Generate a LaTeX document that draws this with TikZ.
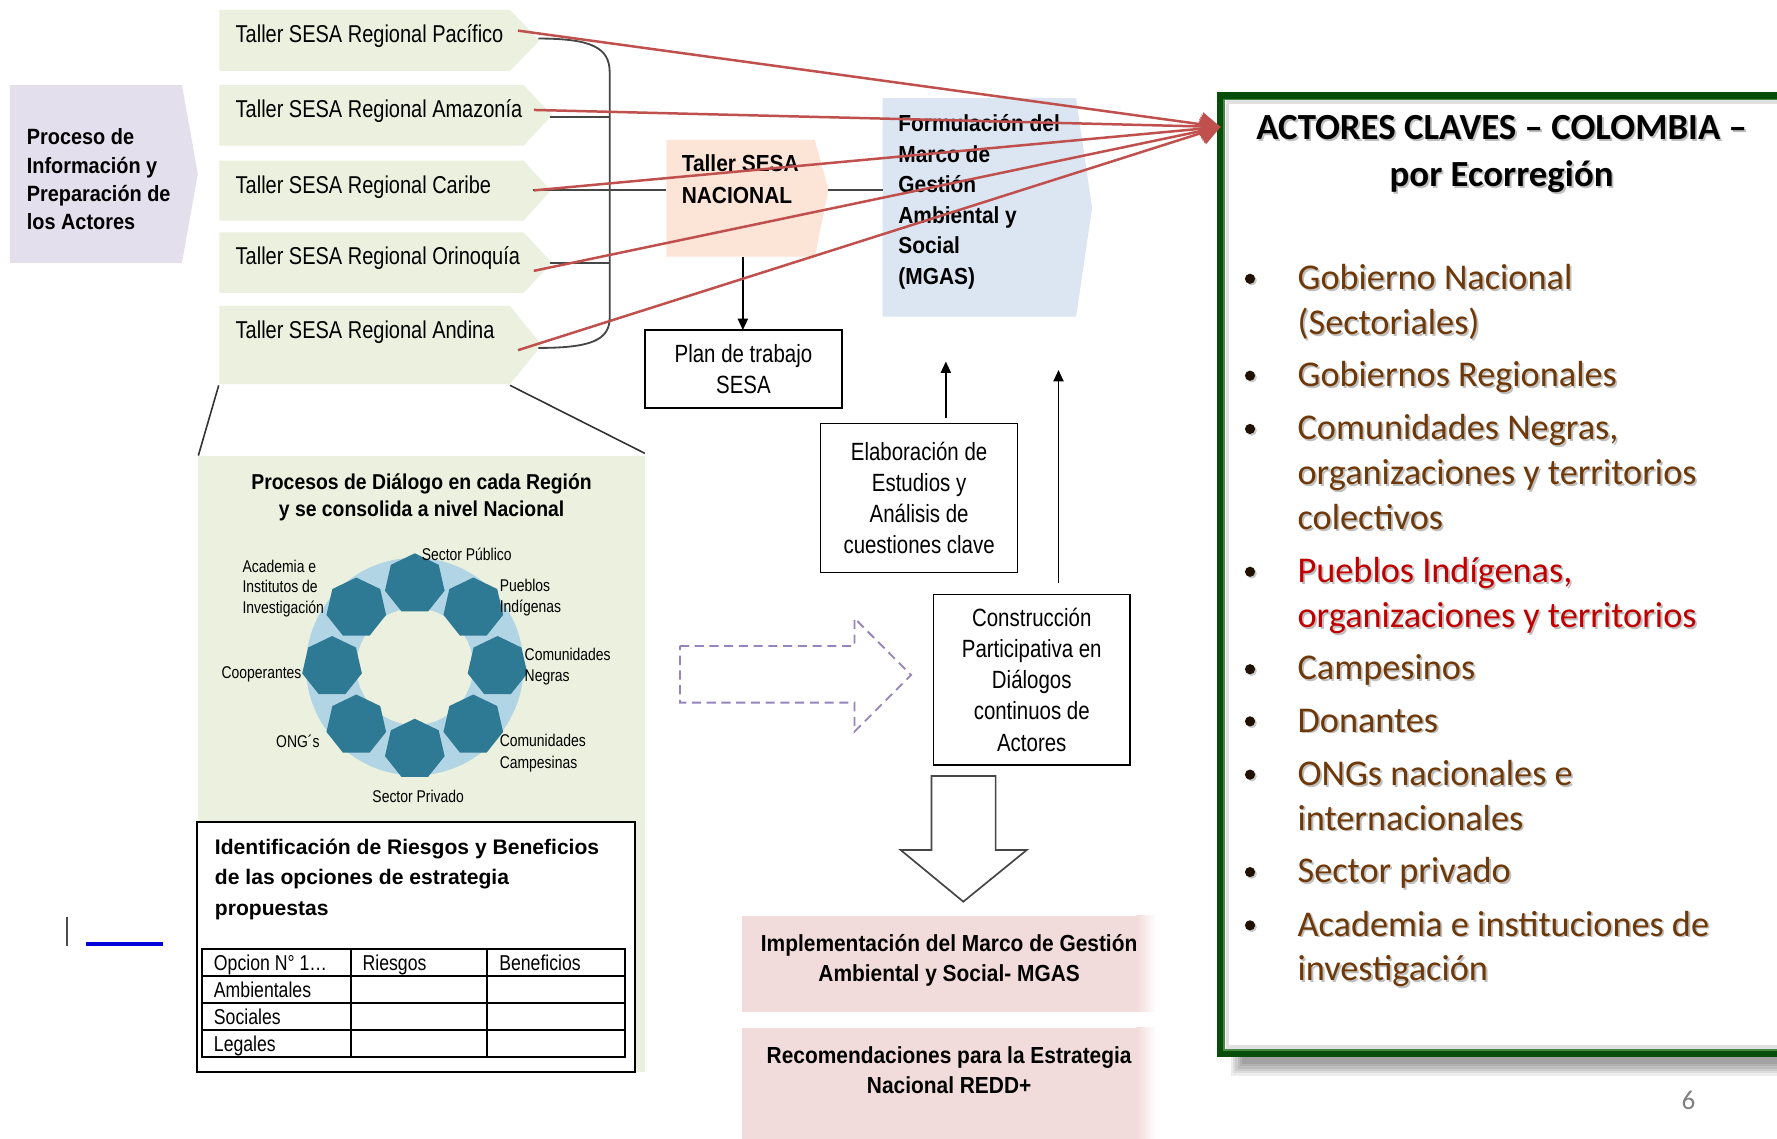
\documentclass[tikz,border=0pt]{standalone}
\usepackage{fontspec}
\setmainfont{Liberation Sans}
\newfontfamily\nar[FakeStretch=0.82]{Liberation Sans}
\newfontfamily\narb[FakeStretch=0.9]{Liberation Sans}
\newfontfamily\carl{Carlito}
\usetikzlibrary{shapes.geometric,arrows.meta,calc}
\definecolor{purp}{RGB}{228,223,236}
\definecolor{lgreen}{RGB}{235,241,222}
\definecolor{peach}{RGB}{252,228,214}
\definecolor{lblue}{RGB}{220,230,242}
\definecolor{pinkc}{RGB}{242,220,219}
\definecolor{ringc}{RGB}{178,213,229}
\definecolor{hexc}{RGB}{46,122,148}
\definecolor{redc}{RGB}{192,80,77}
\definecolor{dgreen}{RGB}{8,78,10}
\definecolor{mgreen}{RGB}{70,135,70}
\definecolor{brownt}{RGB}{110,56,8}
\definecolor{redt}{RGB}{192,0,0}
\definecolor{dashc}{RGB}{150,132,188}
\definecolor{brk}{RGB}{70,70,70}
\newcommand{\mlt}[1]{\begin{tabular}[t]{@{}l@{}}#1\end{tabular}}
\newcommand{\mct}[1]{\begin{tabular}[t]{@{}c@{}}#1\end{tabular}}
% text with a soft shadow: name, style, position, text
\newcommand{\shnode}[4]{%
  \node[#2, text=black!45, text opacity=0.55] (#1s) at ([xshift=1.6pt,yshift=-1.6pt]#3) {#4};
  \node[#2] (#1) at (#3) {#4};}
\begin{document}
\begin{tikzpicture}[x=1pt,y=-1pt,
  every node/.style={inner sep=0pt, outer sep=0pt},
  tal/.style={font=\nar\fontsize{21.5}{25}\selectfont, anchor=base west},
  bxt/.style={font=\narb\bfseries\fontsize{20.5}{27}\selectfont, anchor=base west},
  boxn/.style={draw=black, line width=1.3pt, fill=white, font=\nar\fontsize{22}{27.5}\selectfont, align=center},
  lbl/.style={font=\nar\fontsize{15}{19}\selectfont},
  tcell/.style={font=\nar\fontsize{19}{22}\selectfont, anchor=base west},
  bul/.style={circle, fill=black!70!brownt, minimum size=9pt},
  itm/.style={font=\carl\fontsize{32}{39.5}\selectfont, text=brownt, anchor=base west},
  ttl/.style={font=\carl\bfseries\fontsize{32.5}{41}\selectfont, anchor=base},
  redarrow/.style={draw=redc, line width=2.2pt, -{Triangle[length=17pt,width=21pt]}},
  arr/.style={draw=black, line width=1.3pt, -{Triangle[length=10pt,width=9pt]}},
  grayl/.style={draw=brk, line width=1.6pt},
  hept/.style={regular polygon, regular polygon sides=7, fill=hexc, minimum size=54pt}
]
\useasboundingbox (0,0) rectangle (1568,1005);
\clip (0,0) rectangle (1568,1005);
\fill[white] (0,0) rectangle (1568,1005);

% purple chevron
\fill[purp] (8.7,75) -- (160.5,75) -- (174.5,153.5) -- (160.5,232) -- (8.7,232) -- cycle;
\node[bxt, font=\narb\bfseries\fontsize{19.5}{25}\selectfont] (proc) at (23.7,127.8) {\mlt{Proceso de\\Información y\\Preparación de\\los Actores}};

% regional workshops
\fill[lgreen] (193.6,8.8) -- (450,8.8) -- (476,35.7) -- (450,62.6) -- (193.6,62.6) -- cycle;
\fill[lgreen] (193.6,75) -- (462,75) -- (487,101.7) -- (462,128.5) -- (193.6,128.5) -- cycle;
\fill[lgreen] (193.6,141.8) -- (462,141.8) -- (486,168.2) -- (462,194.7) -- (193.6,194.7) -- cycle;
\fill[lgreen] (193.6,205) -- (462,205) -- (487,231.8) -- (462,258.5) -- (193.6,258.5) -- cycle;
\fill[lgreen] (193.6,270) -- (450,270) -- (478,304.5) -- (450,339) -- (193.6,339) -- cycle;
\node[tal] (t1) at (208,37.5) {Taller SESA Regional Pacífico};
\node[tal] (t2) at (208,104) {Taller SESA Regional Amazonía};
\node[tal] (t3) at (208,170.5) {Taller SESA Regional Caribe};
\node[tal] (t4) at (208,233.5) {Taller SESA Regional Orinoquía};
\node[tal] (t5) at (208,298.5) {Taller SESA Regional Andina};

% bracket
\draw[grayl] (475,34) .. controls (522,34) and (538,42) .. (538,64) -- (538,280) .. controls (538,300) and (522,307) .. (475,307);
\coordinate (k2) at (485,103);
\coordinate (k4) at (485,232);
\coordinate (k3) at (470,167.6);
\coordinate (nacL) at (588,167.6);
\draw[grayl] (k2) -- (538,103);
\draw[grayl] (k4) -- (538,232);
\draw[grayl] (k3) -- (nacL);

% national workshop
\fill[peach] (588,123.5) -- (719,123.5) -- (731,167.6) -- (719,226.5) -- (588,226.5) -- cycle;
\node[bxt, font=\narb\bfseries\fontsize{20.5}{28}\selectfont] (nac) at (601.6,151.3) {\mlt{Taller SESA\\NACIONAL}};

% MGAS
\fill[lblue] (778.8,86.6) -- (949.5,86.6) -- (963.6,183.6) -- (949.5,279.4) -- (778.8,279.4) -- cycle;
\node[bxt] (mgas) at (792.7,116) {\mlt{Formulación del\\Marco de\\Gestión\\Ambiental y\\Social\\(MGAS)}};
\coordinate (nacR) at (731,167.6);
\coordinate (mgasL) at (778.8,167.6);
\draw[grayl] (nacR) -- (mgasL);

% boxes
\node[boxn, minimum width=174pt, minimum height=69pt] (plan) at (656,325.7) {Plan de trabajo\\SESA};
\coordinate (nacB) at (655.5,226.5);
\draw[arr] (nacB) -- (nacB |- plan.north);

\node[boxn, minimum width=174pt, minimum height=131.5pt] (elab) at (811,439.2) {Elaboración de\\Estudios y\\Análisis de\\cuestiones clave};
\node[boxn, minimum width=173pt, minimum height=150.6pt] (cons) at (910.4,599.7) {Construcción\\Participativa en\\Diálogos\\continuos de\\Actores};
\coordinate (e1) at (834.6,369);
\coordinate (m1) at (834.6,319);
\coordinate (e2) at (934,514);
\coordinate (m2) at (934,326.5);
\draw[arr] (e1) -- (m1);
\draw[arr] (e2) -- (m2);

% dashed hollow arrow
\draw[dashc, line width=1.6pt, dash pattern=on 8pt off 5pt] (600,570) -- (754,570) -- (754,545.5) -- (804,595.6) -- (754,645.6) -- (754,620) -- (600,620) -- cycle;

% hollow down arrow
\draw[brk, line width=1.5pt, fill=white, line join=miter] (822,684.7) -- (878.5,684.7) -- (878.5,750) -- (906,750) -- (850,795.6) -- (794.7,750) -- (822,750) -- cycle;

% pink boxes
\fill[pinkc] (654.5,808) rectangle (1003,892.7);
\shade[left color=pinkc, right color=white] (1003,808) rectangle (1020,892.7);
\fill[pinkc] (654.5,907) rectangle (1003,1005);
\shade[left color=pinkc, right color=white] (1003,907) rectangle (1020,1005);
\node[font=\narb\bfseries\fontsize{20.5}{26.6}\selectfont, anchor=base] (impl) at (837.5,839.3) {\mct{Implementación del Marco de Gestión\\Ambiental y Social- MGAS}};
\node[font=\narb\bfseries\fontsize{20.5}{26.6}\selectfont, anchor=base] (reco) at (837.5,938.3) {\mct{Recomendaciones para la Estrategia\\Nacional REDD+}};

% zoom panel
\fill[lgreen] (175,402) rectangle (569,945.6);
\coordinate (a1) at (193,340);
\coordinate (a2) at (450,340);
\coordinate (p1) at (175,402);
\coordinate (p2) at (569,400);
\draw[black!80, line width=1.4pt] (a1) -- (p1);
\draw[black!80, line width=1.4pt] (a2) -- (p2);
\node[font=\narb\bfseries\fontsize{19}{23.5}\selectfont, anchor=base] (proct) at (372,432) {\mct{Procesos de Diálogo en cada Región\\y se consolida a nivel Nacional}};

% ring of actors
\coordinate (cc) at (366,588.2);
\fill[ringc] (cc) circle[radius=96];
\fill[lgreen] (cc) circle[radius=51.5];
\foreach \a [count=\i] in {0,45,...,315} \node[hept] (h\i) at ($(cc)+(\a:73)$) {};
\node[lbl, anchor=base] (lsp) at (411.8,495) {Sector Público};
\node[lbl, anchor=base west] (lpi) at (441,521.5) {\mlt{Pueblos\\Indígenas}};
\node[lbl, anchor=base west] (lcn) at (463,582.5) {\mlt{Comunidades\\Negras}};
\node[lbl, anchor=base west] (lcc) at (441,659) {\mlt{Comunidades\\Campesinas}};
\node[lbl, anchor=base] (lspr) at (369,707.8) {Sector Privado};
\node[lbl, anchor=base east] (long) at (282,660) {ONG´s};
\node[lbl, anchor=base east] (lcoo) at (266,599) {Cooperantes};
\node[lbl, anchor=base west, font=\nar\fontsize{15}{17.7}\selectfont] (laca) at (214,505.5) {\mlt{Academia e\\Institutos de\\Investigación}};

% risks box
\draw[black, line width=1.5pt, fill=white] (174,725) rectangle (560.3,945.6);
\node[font=\bfseries\fontsize{18.6}{26.8}\selectfont, anchor=base west] (idt) at (189.7,753.8) {\mlt{Identificación de Riesgos y Beneficios\\de las opciones de estrategia\\propuestas}};
\draw[black, line width=1.8pt] (178,837.7) rectangle (551.5,932.4);
\draw[black, line width=1.8pt] (309.4,837.7) -- (309.4,932.4) (430,837.7) -- (430,932.4)
  (178,861.2) -- (551.5,861.2) (178,885.3) -- (551.5,885.3) (178,908.8) -- (551.5,908.8);
\node[tcell] (c11) at (188.8,856.5) {Opcion N° 1…};
\node[tcell] (c12) at (320,856.5) {Riesgos};
\node[tcell] (c13) at (440.6,856.5) {Beneficios};
\node[tcell] (c21) at (188.8,880.2) {Ambientales};
\node[tcell] (c31) at (188.8,903.8) {Sociales};
\node[tcell] (c41) at (188.8,927.4) {Legales};

% stray marks
\draw[black!70, line width=2pt] (58.8,809) -- (58.8,835);
\draw[blue!85!black, line width=3pt] (76,833) -- (144,833);

% key actors box
\foreach \s in {0,2,4,6,8,10} {\fill[black, opacity=0.07] (1086+\s,96+\s) rectangle (1600,933+16-\s);}
\fill[white] (1077,84) rectangle (1600,930);
\draw[black!12, line width=3pt] (1083,90) rectangle (1600,924);
\draw[dgreen, line width=6pt] (1076.5,84) rectangle (1600,930);
\draw[mgreen, line width=1pt] (1080,87.5) rectangle (1600,926.5);
\shnode{tit}{ttl}{1325,123.3}{\mct{ACTORES CLAVES – COLOMBIA –\\por Ecorregión}}
\shnode{i1}{itm}{1145,255.5}{\mlt{Gobierno Nacional\\(Sectoriales)}}
\shnode{i2}{itm}{1145,341}{Gobiernos Regionales}
\shnode{i3}{itm}{1145,388}{\mlt{Comunidades Negras,\\organizaciones y territorios\\colectivos}}
\shnode{i4}{itm, text=redt}{1145,514}{\mlt{Pueblos Indígenas,\\organizaciones y territorios}}
\shnode{i5}{itm}{1145,600}{Campesinos}
\shnode{i6}{itm}{1145,646}{Donantes}
\shnode{i7}{itm}{1145,693}{\mlt{ONGs nacionales e\\internacionales}}
\shnode{i8}{itm}{1145,779}{Sector privado}
\shnode{i9}{itm}{1145,826}{\mlt{Academia e instituciones de\\investigación}}
\foreach \n in {1,...,9} {
  \node[bul, fill=black!35, opacity=0.6] (d\n s) at ([xshift=-40.5pt, yshift=8pt]i\n.base west) {};
  \node[bul] (d\n) at ([xshift=-42pt, yshift=9.5pt]i\n.base west) {};}
\node[font=\carl\fontsize{24}{28}\selectfont, text=black!50, anchor=base] (pg) at (1490,979) {6};

% red arrows
\coordinate (tip) at (1077,112);
\coordinate (r1) at (457,27);
\coordinate (r2) at (471,97);
\coordinate (r3) at (471,168);
\coordinate (r4) at (471,239);
\coordinate (r5) at (457,309);
\foreach \r in {r1,r2,r3,r4,r5} \draw[redarrow] (\r) -- (tip);
\end{tikzpicture}
\end{document}
